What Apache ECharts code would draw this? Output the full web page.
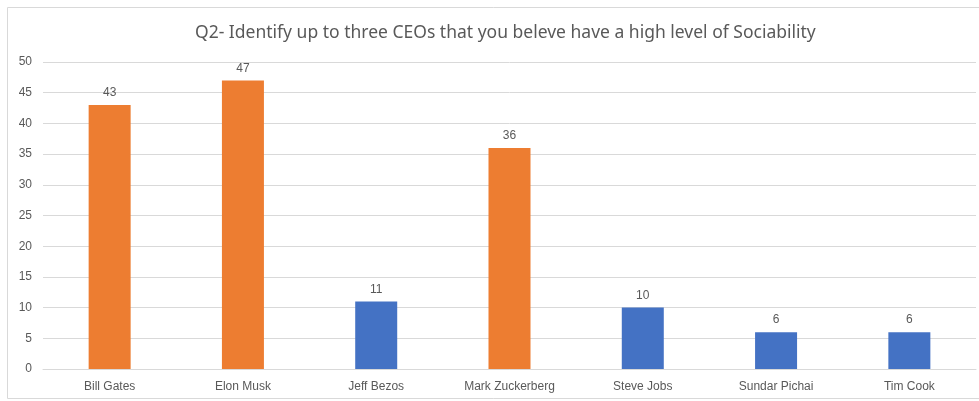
<!DOCTYPE html>
<html>
<head>
<meta charset="utf-8">
<script src="https://cdn.jsdelivr.net/npm/echarts@6/dist/echarts.min.js"></script>
<style>
  html, body { margin: 0; padding: 0; background: #fff; }
  #chart { width: 979px; height: 401px; }
</style>
</head>
<body>
<div id="chart"></div>
<script>
const categories = ['Bill Gates', 'Elon Musk', 'Jeff Bezos', 'Mark Zuckerberg', 'Steve Jobs', 'Sundar Pichai', 'Tim Cook'];
const votes = [43, 47, 11, 36, 10, 6, 6];
const highlighted = ['Bill Gates', 'Elon Musk', 'Mark Zuckerberg'];
const yTicks = { min: 0, max: 50, interval: 5 };

const chart = echarts.init(document.getElementById('chart'));
chart.setOption({
  animation: false,
  title: {
    text: 'Q2- Identify up to three CEOs that you beleve have a high level of Sociability',
    left: 190,
    top: 19,
    textStyle: {
      fontFamily: 'Noto Sans',
      fontSize: 17.5,
      fontWeight: 'normal',
      color: '#595959',
    },
  },
  graphic: [
    {
      type: 'rect',
      shape: { x: 7.5, y: 7.5, width: 975, height: 391 },
      style: { fill: 'none', stroke: '#d9d9d9', lineWidth: 1 },
      silent: true,
    },
  ],
  grid: { left: 43, right: 3, top: 62, bottom: 32 },
  xAxis: {
    type: 'category',
    data: categories,
    axisTick: { show: false },
    axisLine: { lineStyle: { color: '#d9d9d9' } },
    axisLabel: {
      color: '#595959',
      fontFamily: 'Liberation Sans',
      fontSize: 12,
      margin: 12,
    },
  },
  yAxis: {
    type: 'value',
    min: yTicks.min,
    max: yTicks.max,
    interval: yTicks.interval,
    axisLine: { show: false },
    axisTick: { show: false },
    splitLine: { lineStyle: { color: '#d9d9d9' } },
    axisLabel: {
      color: '#595959',
      fontFamily: 'Liberation Sans',
      fontSize: 12,
      margin: 11,
    },
  },
  series: [
    {
      type: 'bar',
      data: votes.map((v, i) => ({
        value: v,
        itemStyle: {
          color: highlighted.includes(categories[i]) ? '#ED7D31' : '#4472C4',
        },
      })),
      barWidth: 42,
      label: {
        show: true,
        position: 'top',
        distance: 6,
        color: '#595959',
        fontFamily: 'Liberation Sans',
        fontSize: 12,
      },
    },
  ],
});
</script>
</body>
</html>
